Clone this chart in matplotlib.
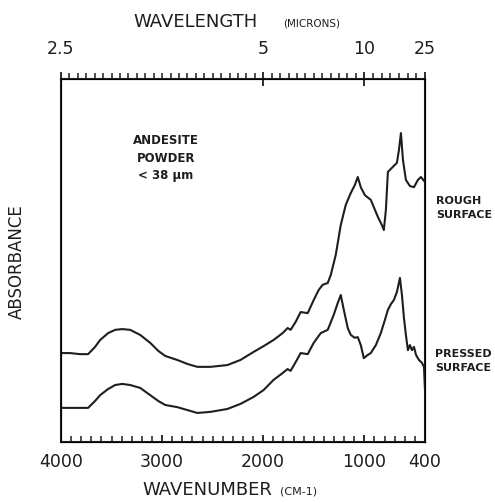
import numpy as np
import matplotlib
matplotlib.use("Agg")
import matplotlib.pyplot as plt

# ---- data ----
rough_wn = [4000, 3911, 3812, 3732, 3663, 3613, 3534, 3464, 3395, 3316, 3217, 3117, 3038, 2969,
            2850, 2750, 2651, 2522, 2354, 2225, 2096, 1997, 1898, 1808, 1759, 1729, 1679, 1630,
            1560, 1501, 1451, 1412, 1362, 1332, 1283, 1233, 1184, 1134, 1094, 1065, 1035, 995,
            936, 866, 827, 807, 787, 767, 718, 678, 658, 638, 618, 589, 549, 509, 470, 440, 400]
rough_abs = [0.245, 0.245, 0.242, 0.242, 0.262, 0.281, 0.300, 0.309, 0.311, 0.309, 0.295, 0.273,
             0.251, 0.237, 0.226, 0.215, 0.207, 0.207, 0.212, 0.226, 0.248, 0.264, 0.281, 0.300,
             0.314, 0.309, 0.331, 0.358, 0.355, 0.391, 0.419, 0.433, 0.438, 0.460, 0.515, 0.598,
             0.653, 0.686, 0.708, 0.730, 0.702, 0.680, 0.667, 0.620, 0.598, 0.584, 0.639, 0.744,
             0.758, 0.769, 0.804, 0.851, 0.777, 0.722, 0.705, 0.702, 0.722, 0.730, 0.716]

pressed_wn = [4000, 3911, 3812, 3732, 3663, 3613, 3534, 3464, 3395, 3316, 3217, 3117, 3038, 2969,
              2850, 2750, 2651, 2522, 2354, 2225, 2096, 1997, 1898, 1808, 1759, 1729, 1679, 1630,
              1560, 1501, 1431, 1362, 1303, 1263, 1233, 1203, 1164, 1134, 1094, 1065, 1035, 1005,
              966, 936, 886, 837, 797, 767, 737, 708, 678, 648, 628, 609, 589, 569, 549, 529, 509,
              489, 460, 430, 410, 400]
pressed_abs = [0.094, 0.094, 0.094, 0.094, 0.113, 0.129, 0.146, 0.157, 0.160, 0.157, 0.149, 0.129,
               0.113, 0.102, 0.096, 0.088, 0.080, 0.083, 0.091, 0.105, 0.124, 0.143, 0.171, 0.190,
               0.201, 0.196, 0.220, 0.245, 0.242, 0.273, 0.300, 0.309, 0.350, 0.383, 0.405, 0.364,
               0.314, 0.295, 0.287, 0.289, 0.267, 0.231, 0.240, 0.245, 0.267, 0.300, 0.336, 0.364,
               0.380, 0.391, 0.413, 0.452, 0.405, 0.344, 0.295, 0.253, 0.267, 0.253, 0.262, 0.240,
               0.226, 0.218, 0.207, 0.143]

bottom_ticks = [4000, 3000, 2000, 1000, 400]
bottom_labels = ["4000", "3000", "2000", "1000", "400"]
top_wavelengths = [2.5, 5, 10, 25]
top_labels = ["2.5", "5", "10", "25"]

W, H = 495, 503
fig = plt.figure(figsize=(W / 100, H / 100), dpi=100)
fig.patch.set_facecolor("white")
INK = "#1e1e1e"

def fx(x):
    return x / W

def fy(y):
    return 1 - y / H

ax = fig.add_axes([fx(61), fy(442), (425 - 61) / W, (442 - 79) / H])
ax.plot(rough_wn, rough_abs, color=INK, lw=1.5, solid_joinstyle="round", solid_capstyle="round")
ax.plot(pressed_wn, pressed_abs, color=INK, lw=1.5, solid_joinstyle="round", solid_capstyle="round")
ax.set_xlim(4000, 400)
ax.set_ylim(0, 1)
for s in ax.spines.values():
    s.set_linewidth(1.5)
    s.set_color(INK)

ax.set_yticks([])
ax.set_xticks(bottom_ticks)
ax.set_xticklabels(bottom_labels, fontsize=12.5, color=INK)
ax.set_xticks(np.arange(3900, 400, -100), minor=True)
ax.tick_params(axis="x", which="major", direction="in", length=5, width=1.3, pad=8, colors=INK)
ax.tick_params(axis="x", which="minor", direction="in", length=4, width=1.1, colors=INK)

# top wavelength axis
ax2 = ax.twiny()
ax2.set_xlim(4000, 400)
ax2.set_xticks([1e4 / w for w in top_wavelengths])
ax2.set_xticklabels(top_labels, fontsize=12.5, color=INK)
minor_top = np.concatenate([np.linspace(4000, 2000, 25)[1:-1],
                            np.linspace(2000, 1000, 13)[1:-1],
                            np.linspace(1000, 400, 8)[1:-1]])
ax2.set_xticks(minor_top, minor=True)
ax2.tick_params(axis="x", which="major", direction="inout", length=10, width=1.3, pad=10, colors=INK)
ax2.tick_params(axis="x", which="minor", direction="out", length=4, width=1.1, colors=INK)
ax2.set_yticks([])

# axis titles
fig.text(fx(133), fy(22), "WAVELENGTH", fontsize=13, ha="left", va="center", color=INK)
fig.text(fx(283), fy(23), "(MICRONS)", fontsize=7.5, ha="left", va="center", color=INK)
fig.text(fx(142), fy(490), "WAVENUMBER", fontsize=13, ha="left", va="center", color=INK)
fig.text(fx(280), fy(491), "(CM-1)", fontsize=8, ha="left", va="center", color=INK)
fig.text(fx(17), fy(262), "ABSORBANCE", fontsize=12, rotation=90, ha="center", va="center", color=INK)

# annotations
fig.text(fx(166), fy(158), "ANDESITE\nPOWDER\n< 38 \u00b5m", fontsize=8.5, ha="center", va="center",
         color=INK, linespacing=1.45, fontweight="bold")
fig.text(fx(436), fy(208), "ROUGH\nSURFACE", fontsize=8, ha="left", va="center", color=INK,
         linespacing=1.4, fontweight="bold")
fig.text(fx(435), fy(361), "PRESSED\nSURFACE", fontsize=8, ha="left", va="center", color=INK,
         linespacing=1.4, fontweight="bold")

fig.savefig("out.png", dpi=100, facecolor="white")
